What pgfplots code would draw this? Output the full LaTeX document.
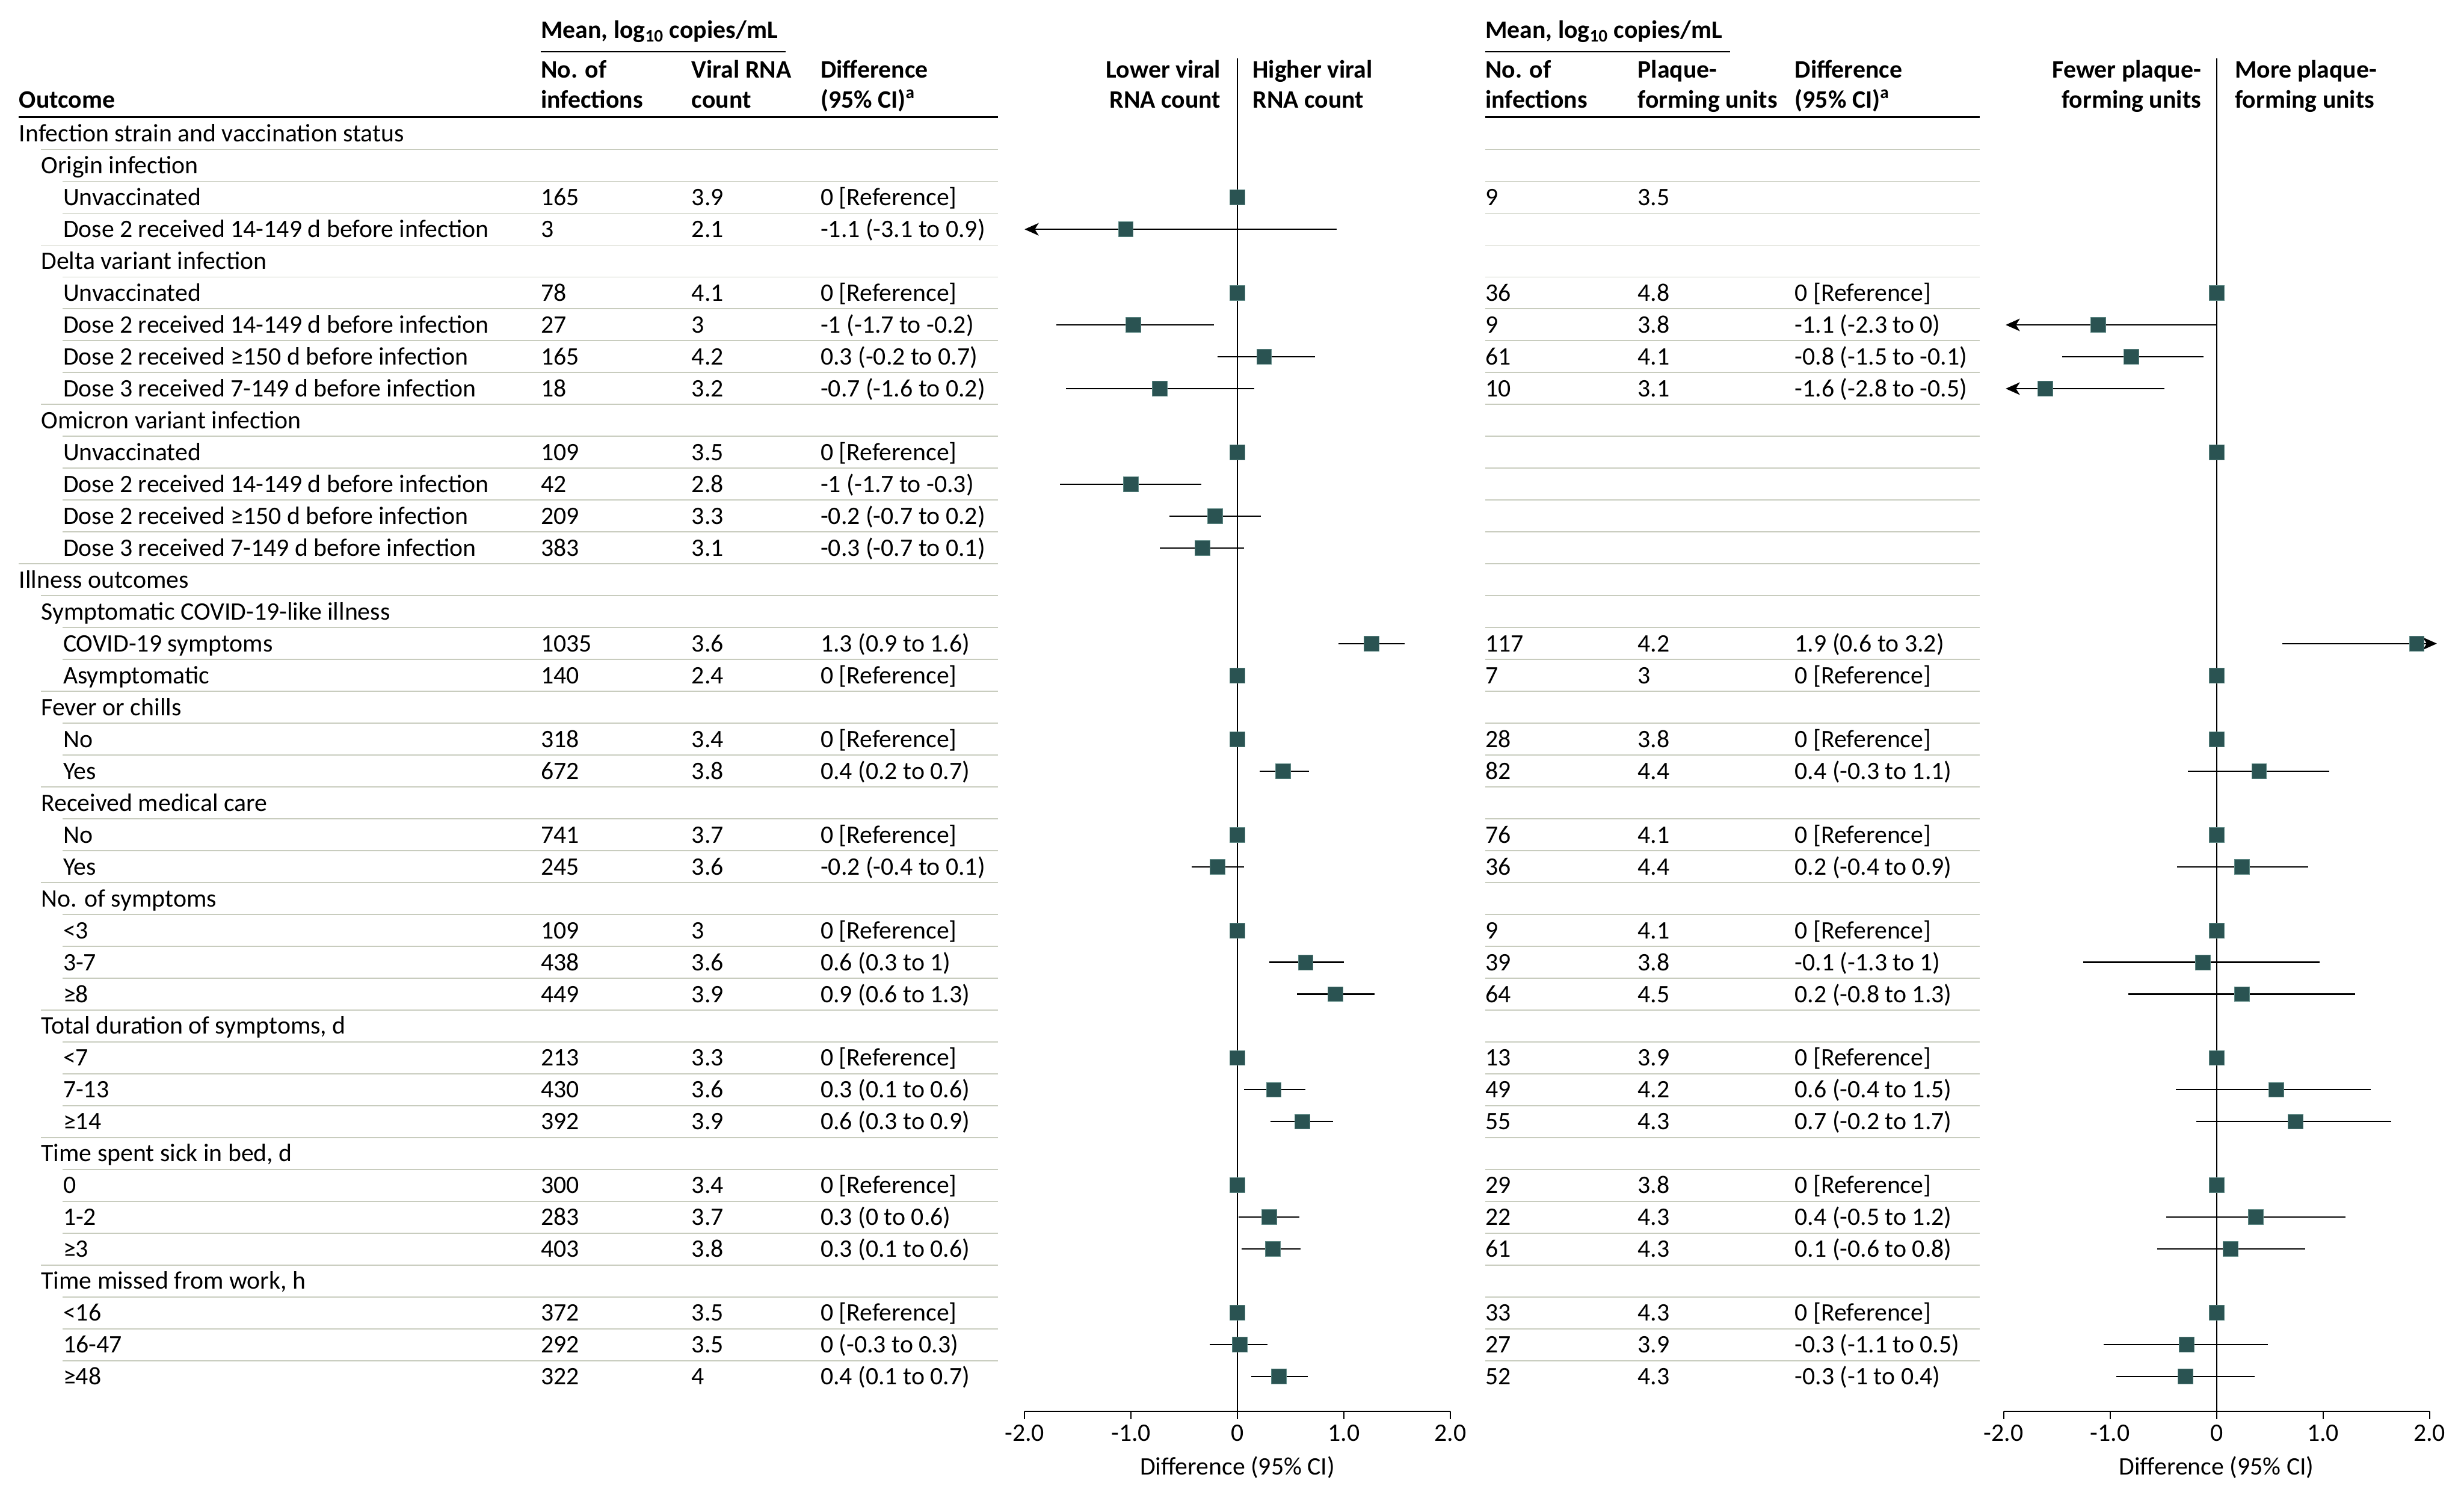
\documentclass[border=0pt]{standalone}
\usepackage{fontspec}
\setmainfont{Carlito}
\usepackage{pgfplots}
\pgfplotsset{compat=1.18}
\usepackage{pgfplotstable}
\usetikzlibrary{arrows.meta}

\definecolor{sq}{RGB}{42,83,82}
\definecolor{sqedge}{RGB}{96,138,134}
\definecolor{sep}{RGB}{200,204,190}
\newcommand\fs{\fontsize{16}{19}\selectfont}

% marker positions (row, estimate)
\pgfplotstableread{
row est
3 0
4 -1.05
6 0
7 -0.98
8 0.25
9 -0.73
11 0
12 -1.00
13 -0.21
14 -0.33
17 1.26
18 0
20 0
21 0.43
23 0
24 -0.19
26 0
27 0.64
28 0.92
30 0
31 0.34
32 0.61
34 0
35 0.30
36 0.33
38 0
39 0.02
40 0.39
}\leftpt
\pgfplotstableread{
row est lo hi
7 -0.98 -1.70 -0.22
8 0.25 -0.19 0.73
9 -0.73 -1.61 0.16
12 -1.00 -1.67 -0.34
13 -0.21 -0.64 0.22
14 -0.33 -0.73 0.06
17 1.26 0.95 1.57
21 0.43 0.21 0.67
24 -0.19 -0.43 0.06
27 0.64 0.30 1.00
28 0.92 0.56 1.29
31 0.34 0.06 0.64
32 0.61 0.31 0.90
35 0.30 0.01 0.58
36 0.33 0.04 0.59
39 0.02 -0.26 0.28
40 0.39 0.13 0.66
}\leftci
\pgfplotstableread{
row est
6 0
7 -1.11
8 -0.80
9 -1.61
11 0
17 1.88
18 0
20 0
21 0.40
23 0
24 0.24
26 0
27 -0.13
28 0.24
30 0
31 0.56
32 0.74
34 0
35 0.37
36 0.13
38 0
39 -0.28
40 -0.29
}\rightpt
\pgfplotstableread{
row est lo hi
8 -0.80 -1.45 -0.12
21 0.40 -0.27 1.06
24 0.24 -0.37 0.86
27 -0.13 -1.25 0.97
28 0.24 -0.83 1.30
31 0.56 -0.38 1.45
32 0.74 -0.19 1.64
35 0.37 -0.47 1.21
36 0.13 -0.56 0.83
39 -0.28 -1.06 0.48
40 -0.29 -0.94 0.36
}\rightci

\newcommand\R[9]{%
  \pgfmathsetmacro\yy{-(85+(#1-1)*20.28)}%
  \pgfmathsetmacro\yb{\yy-5.2}%
  \pgfmathsetmacro\ys{\yy+10.14}%
  \edef\ix{\ifcase#2 12\or 26\else 40\fi}%
  \ifnum#1>1\relax
    \draw[sep, line width=0.7pt] (\ix,\ys) -- (635,\ys);
    \draw[sep, line width=0.7pt] (945,\ys) -- (1260,\ys);
  \fi
  \node[txt] at (\ix,\yb) {#3};
  \node[txt] at (344,\yb) {#4};
  \node[txt] at (440,\yb) {#5};
  \node[txt] at (522,\yb) {#6};
  \node[txt] at (945,\yb) {#7};
  \node[txt] at (1042,\yb) {#8};
  \node[txt] at (1142,\yb) {#9};
}

\pgfplotsset{forest/.style={
  width=271pt, height=861pt, scale only axis,
  anchor=south west,
  xmin=-2, xmax=2, ymin=-1.37, ymax=41.09, y dir=reverse,
  axis x line*=bottom, axis y line=none,
  x axis line style={-, line width=0.8pt, black},
  xtick={-2,-1,0,1,2}, xticklabels={-2.0,-1.0,0,1.0,2.0},
  tick align=outside, major tick length=5pt,
  xtick style={black, line width=0.8pt},
  ticklabel style={font=\fs},
  xlabel={Difference (95\% CI)}, xlabel style={font=\fs, yshift=-3pt},
  clip=false,
}}
\pgfplotsset{ci/.style={only marks, mark=none, forget plot,
  error bars/.cd, x dir=both, x explicit, error mark=none,
  error bar style={draw=black, line width=0.8pt}}}
\pgfplotsset{pts/.style={only marks, mark=square*, mark size=4.75pt,
  mark options={fill=sq, draw=sqedge, line width=0.3pt}}}
\pgfplotsset{arr/.style={black, line width=0.8pt, forget plot,
  -{Stealth[length=9pt, width=8pt, inset=2.5pt]}}}

\begin{document}
\begin{tikzpicture}[x=1pt, y=1pt, txt/.style={anchor=base west, inner sep=0pt, font=\fs},
  hb/.style={inner sep=0pt, font=\fs\bfseries}]
\path[use as bounding box] (0,0) rectangle (1568,-955);

% headers, left table
\node[hb, anchor=base west] at (12,-68.7) {Outcome};
\node[hb, anchor=base west] at (344,-24.2) {Mean, log\textsubscript{10} copies/mL};
\draw[line width=0.7pt] (344,-33) -- (500,-33);
\node[hb, anchor=base west] at (344,-49.7) {No. of};
\node[hb, anchor=base west] at (344,-68.7) {infections};
\node[hb, anchor=base west] at (440,-49.7) {Viral RNA};
\node[hb, anchor=base west] at (440,-68.7) {count};
\node[hb, anchor=base west] at (522,-49.7) {Difference};
\node[hb, anchor=base west] at (522,-68.7) {(95\% CI)\textsuperscript{a}};
\draw[line width=1.2pt] (12,-74.5) -- (635,-74.5);
% headers, right table
\node[hb, anchor=base west] at (945,-24.2) {Mean, log\textsubscript{10} copies/mL};
\draw[line width=0.7pt] (945,-33) -- (1101,-33);
\node[hb, anchor=base west] at (945,-49.7) {No. of};
\node[hb, anchor=base west] at (945,-68.7) {infections};
\node[hb, anchor=base west] at (1042,-49.7) {Plaque-};
\node[hb, anchor=base west] at (1042,-68.7) {forming units};
\node[hb, anchor=base west] at (1142,-49.7) {Difference};
\node[hb, anchor=base west] at (1142,-68.7) {(95\% CI)\textsuperscript{a}};
\draw[line width=1.2pt] (945,-74.5) -- (1260,-74.5);
% forest headers
\node[hb, anchor=base east] at (777,-49.7) {Lower viral};
\node[hb, anchor=base east] at (777,-68.7) {RNA count};
\node[hb, anchor=base west] at (797,-49.7) {Higher viral};
\node[hb, anchor=base west] at (797,-68.7) {RNA count};
\node[hb, anchor=base east] at (1401,-49.7) {Fewer plaque-};
\node[hb, anchor=base east] at (1401,-68.7) {forming units};
\node[hb, anchor=base west] at (1422,-49.7) {More plaque-};
\node[hb, anchor=base west] at (1422,-68.7) {forming units};

% table rows
\R{1}{0}{Infection strain and vaccination status}{}{}{}{}{}{}
\R{2}{1}{Origin infection}{}{}{}{}{}{}
\R{3}{2}{Unvaccinated}{165}{3.9}{0 [Reference]}{9}{3.5}{}
\R{4}{2}{Dose 2 received 14-149 d before infection}{3}{2.1}{-1.1 (-3.1 to 0.9)}{}{}{}
\R{5}{1}{Delta variant infection}{}{}{}{}{}{}
\R{6}{2}{Unvaccinated}{78}{4.1}{0 [Reference]}{36}{4.8}{0 [Reference]}
\R{7}{2}{Dose 2 received 14-149 d before infection}{27}{3}{-1 (-1.7 to -0.2)}{9}{3.8}{-1.1 (-2.3 to 0)}
\R{8}{2}{Dose 2 received ≥150 d before infection}{165}{4.2}{0.3 (-0.2 to 0.7)}{61}{4.1}{-0.8 (-1.5 to -0.1)}
\R{9}{2}{Dose 3 received 7-149 d before infection}{18}{3.2}{-0.7 (-1.6 to 0.2)}{10}{3.1}{-1.6 (-2.8 to -0.5)}
\R{10}{1}{Omicron variant infection}{}{}{}{}{}{}
\R{11}{2}{Unvaccinated}{109}{3.5}{0 [Reference]}{}{}{}
\R{12}{2}{Dose 2 received 14-149 d before infection}{42}{2.8}{-1 (-1.7 to -0.3)}{}{}{}
\R{13}{2}{Dose 2 received ≥150 d before infection}{209}{3.3}{-0.2 (-0.7 to 0.2)}{}{}{}
\R{14}{2}{Dose 3 received 7-149 d before infection}{383}{3.1}{-0.3 (-0.7 to 0.1)}{}{}{}
\R{15}{0}{Illness outcomes}{}{}{}{}{}{}
\R{16}{1}{Symptomatic COVID-19-like illness}{}{}{}{}{}{}
\R{17}{2}{COVID-19 symptoms}{1035}{3.6}{1.3 (0.9 to 1.6)}{117}{4.2}{1.9 (0.6 to 3.2)}
\R{18}{2}{Asymptomatic}{140}{2.4}{0 [Reference]}{7}{3}{0 [Reference]}
\R{19}{1}{Fever or chills}{}{}{}{}{}{}
\R{20}{2}{No}{318}{3.4}{0 [Reference]}{28}{3.8}{0 [Reference]}
\R{21}{2}{Yes}{672}{3.8}{0.4 (0.2 to 0.7)}{82}{4.4}{0.4 (-0.3 to 1.1)}
\R{22}{1}{Received medical care}{}{}{}{}{}{}
\R{23}{2}{No}{741}{3.7}{0 [Reference]}{76}{4.1}{0 [Reference]}
\R{24}{2}{Yes}{245}{3.6}{-0.2 (-0.4 to 0.1)}{36}{4.4}{0.2 (-0.4 to 0.9)}
\R{25}{1}{No. of symptoms}{}{}{}{}{}{}
\R{26}{2}{<3}{109}{3}{0 [Reference]}{9}{4.1}{0 [Reference]}
\R{27}{2}{3-7}{438}{3.6}{0.6 (0.3 to 1)}{39}{3.8}{-0.1 (-1.3 to 1)}
\R{28}{2}{≥8}{449}{3.9}{0.9 (0.6 to 1.3)}{64}{4.5}{0.2 (-0.8 to 1.3)}
\R{29}{1}{Total duration of symptoms, d}{}{}{}{}{}{}
\R{30}{2}{<7}{213}{3.3}{0 [Reference]}{13}{3.9}{0 [Reference]}
\R{31}{2}{7-13}{430}{3.6}{0.3 (0.1 to 0.6)}{49}{4.2}{0.6 (-0.4 to 1.5)}
\R{32}{2}{≥14}{392}{3.9}{0.6 (0.3 to 0.9)}{55}{4.3}{0.7 (-0.2 to 1.7)}
\R{33}{1}{Time spent sick in bed, d}{}{}{}{}{}{}
\R{34}{2}{0}{300}{3.4}{0 [Reference]}{29}{3.8}{0 [Reference]}
\R{35}{2}{1-2}{283}{3.7}{0.3 (0 to 0.6)}{22}{4.3}{0.4 (-0.5 to 1.2)}
\R{36}{2}{≥3}{403}{3.8}{0.3 (0.1 to 0.6)}{61}{4.3}{0.1 (-0.6 to 0.8)}
\R{37}{1}{Time missed from work, h}{}{}{}{}{}{}
\R{38}{2}{<16}{372}{3.5}{0 [Reference]}{33}{4.3}{0 [Reference]}
\R{39}{2}{16-47}{292}{3.5}{0 (-0.3 to 0.3)}{27}{3.9}{-0.3 (-1.1 to 0.5)}
\R{40}{2}{≥48}{322}{4}{0.4 (0.1 to 0.7)}{52}{4.3}{-0.3 (-1 to 0.4)}

% left forest
\begin{axis}[forest, at={(652pt,-898pt)}]
\addplot[black, line width=0.7pt, forget plot] coordinates {(0,-1.37) (0,41.09)};
\addplot[ci] table[x=est, y=row, x error plus expr=\thisrow{hi}-\thisrow{est}, x error minus expr=\thisrow{est}-\thisrow{lo}] \leftci;
\addplot[arr] coordinates {(0.93,4) (-2.0,4)};
\addplot[pts] table[x=est, y=row] \leftpt;
\end{axis}

% right forest
\begin{axis}[forest, at={(1275pt,-898pt)}]
\addplot[black, line width=0.7pt, forget plot] coordinates {(0,-1.37) (0,41.09)};
\addplot[ci] table[x=est, y=row, x error plus expr=\thisrow{hi}-\thisrow{est}, x error minus expr=\thisrow{est}-\thisrow{lo}] \rightci;
\addplot[arr] coordinates {(0,7) (-1.98,7)};
\addplot[arr] coordinates {(-0.49,9) (-1.98,9)};
\addplot[arr] coordinates {(0.62,17) (2.07,17)};
\addplot[pts] table[x=est, y=row] \rightpt;
\end{axis}
\end{tikzpicture}
\end{document}
